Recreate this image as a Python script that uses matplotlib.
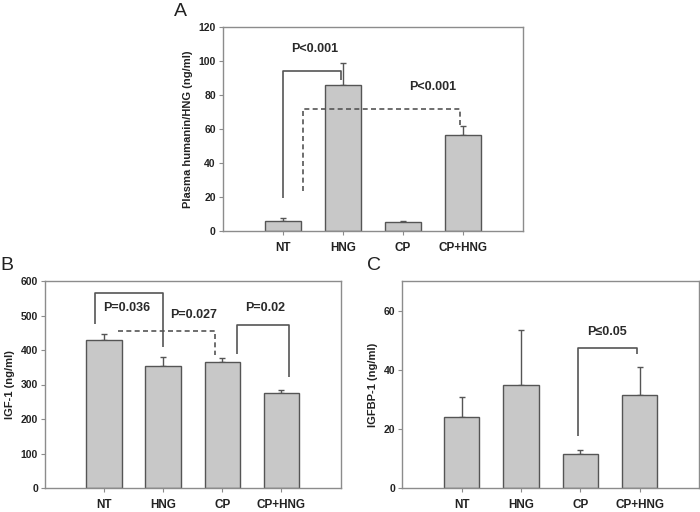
import matplotlib
matplotlib.use("Agg")
import matplotlib.pyplot as plt

categories = ["NT", "HNG", "CP", "CP+HNG"]

hng_values = [5.9, 86.2, 5.1, 56.2]
hng_errors = [1.4, 13.0, 0.8, 5.4]

igf_values = [428, 354, 364, 274]
igf_errors = [17, 27, 14, 9]

igfbp_values = [24.1, 34.8, 11.5, 31.4]
igfbp_errors = [6.7, 18.7, 1.2, 9.5]

W, H = 700, 512
fig = plt.figure(figsize=(W / 100, H / 100), dpi=100)

TICK_FONT = ["Liberation Sans", "DejaVu Sans"]
P_FONT = ["Liberation Sans", "DejaVu Sans"]
SPINE = "#8c8c8c"
BAR = "#c8c8c8"
EDGE = "#555555"
LINE = "#555555"


def box(l, t, r, b):
    return [l / W, 1 - b / H, (r - l) / W, (b - t) / H]


def make_panel(rect, values, errors, ymax, yticks, ylabel):
    ax = fig.add_axes(rect)
    x = list(range(len(categories)))
    ax.bar(x, values, width=0.6, color=BAR, edgecolor=EDGE, linewidth=1.0, zorder=2)
    ax.errorbar(x, values, yerr=[[0] * len(values), errors], fmt="none",
                ecolor=EDGE, elinewidth=1.0, capsize=2.5, capthick=1.0, zorder=1)
    ax.set_xlim(-1, 4)
    ax.set_ylim(0, ymax)
    ax.set_yticks(yticks)
    ax.set_yticklabels([str(v) for v in yticks], fontsize=7.5, fontweight="bold",
                       family=TICK_FONT, color="#222222")
    ax.set_xticks(x)
    ax.set_xticklabels(categories, fontsize=8.5, fontweight="bold", family=TICK_FONT,
                       color="#222222")
    ax.tick_params(axis="both", color=SPINE, length=3, width=0.8, direction="out")
    ax.tick_params(axis="x", pad=5)
    ax.tick_params(axis="y", pad=2)
    for s in ax.spines.values():
        s.set_color(SPINE)
        s.set_linewidth(1.0)
    ax.set_ylabel(ylabel, fontsize=8, fontweight="bold", family=TICK_FONT, labelpad=4,
                  color="#222222")
    return ax


def bracket(ax, x1, y1, x2, y2, ytop, dashed=False, left=True):
    ls = (0, (3, 2)) if dashed else "-"
    xs, ys = [], []
    if left:
        xs += [x1, x1]
        ys += [y1, ytop]
    else:
        xs += [x1]
        ys += [ytop]
    xs += [x2, x2]
    ys += [ytop, y2]
    ax.plot(xs, ys, color=LINE, linewidth=1.2, linestyle=ls, zorder=3,
            solid_capstyle="butt", dash_capstyle="butt")


def ptext(ax, x, y, s):
    ax.text(x, y, s, ha="center", va="center", fontsize=9, fontweight="bold",
            family=P_FONT, color="#2a2a2a")


# Panel A
axA = make_panel(box(222.7, 27.3, 523.3, 230.7), hng_values, hng_errors, 120,
                 [0, 20, 40, 60, 80, 100, 120], "Plasma humanin/HNG (ng/ml)")
bracket(axA, 0.0, 19.4, 0.96, 89, 94)
ptext(axA, 0.53, 107, "P<0.001")
bracket(axA, 0.33, 23.3, 2.95, 62, 72, dashed=True)
ptext(axA, 2.5, 85, "P<0.001")

# Panel B
axB = make_panel(box(45, 281, 340.5, 488), igf_values, igf_errors, 600,
                 [0, 100, 200, 300, 400, 500, 600], "IGF-1 (ng/ml)")
bracket(axB, -0.15, 475, 0.99, 409, 564)
ptext(axB, 0.39, 521, "P=0.036")
bracket(axB, 0.23, 455, 1.87, 385, 455, dashed=True, left=False)
ptext(axB, 1.52, 501, "P=0.027")
bracket(axB, 2.25, 388, 3.13, 322, 473)
ptext(axB, 2.73, 521, "P=0.02")

# Panel C
axC = make_panel(box(402.3, 281, 699, 488), igfbp_values, igfbp_errors, 70,
                 [0, 20, 40, 60], "IGFBP-1 (ng/ml)")
bracket(axC, 1.96, 17.5, 2.96, 45.2, 47.5)
ptext(axC, 2.45, 52.7, "P≤0.05")

# Panel letters
for letter, (px, py) in {"A": (180, 12), "B": (7, 266), "C": (374, 266)}.items():
    fig.text(px / W, 1 - py / H, letter, ha="center", va="center", fontsize=14,
             family=TICK_FONT, color="#222222")

fig.savefig("out.png", dpi=100)
